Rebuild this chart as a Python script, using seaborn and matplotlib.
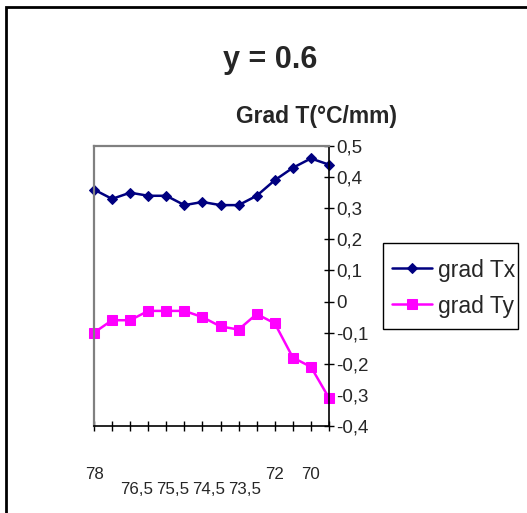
import numpy as np
import pandas as pd
import matplotlib
matplotlib.use("Agg")
import matplotlib.pyplot as plt
import seaborn as sns
from matplotlib.patches import Rectangle
from matplotlib.ticker import FuncFormatter, MultipleLocator
from matplotlib.transforms import ScaledTranslation

# Temperature gradient along the profile at y = 0.6
x_labels = ["78", "", "76,5", "", "75,5", "", "74,5", "", "73,5", "", "72", "", "70", ""]
grad_tx = [0.36, 0.33, 0.35, 0.34, 0.34, 0.31, 0.32, 0.31, 0.31, 0.34, 0.39, 0.43, 0.46, 0.44]
grad_ty = [-0.10, -0.06, -0.06, -0.03, -0.03, -0.03, -0.05, -0.08, -0.09, -0.04, -0.07, -0.18, -0.21, -0.31]
label_row = [0, 0, 1, 0, 1, 0, 1, 0, 1, 0, 0, 0, 0, 0]

df = pd.DataFrame({"pos": np.arange(len(grad_tx)), "grad Tx": grad_tx, "grad Ty": grad_ty})

sns.set_theme(style="white")
plt.rcParams["font.family"] = ["Liberation Sans", "DejaVu Sans"]

W, H = 527, 513
fig = plt.figure(figsize=(W / 100, H / 100), dpi=100)
ax = fig.add_axes([94 / W, 1 - 426 / H, (329 - 94) / W, (426 - 146) / H])

sns.lineplot(data=df, x="pos", y="grad Tx", ax=ax, color="#000080", lw=1.8,
             marker="D", markersize=5.6, markeredgecolor="#000080",
             label="grad Tx", clip_on=False)
sns.lineplot(data=df, x="pos", y="grad Ty", ax=ax, color="#FF00FF", lw=1.8,
             marker="s", markersize=6.8, markeredgecolor="#FF00FF",
             label="grad Ty", clip_on=False)

ax.set_xlim(0, len(grad_tx) - 1)
ax.set_ylim(-0.4, 0.5)
ax.set_xlabel("")
ax.set_ylabel("")

# value axis on the right, comma decimal separator
ax.yaxis.tick_right()
ax.yaxis.set_major_locator(MultipleLocator(0.1))
ax.yaxis.set_major_formatter(FuncFormatter(lambda v, _: f"{round(v, 2):g}".replace(".", ",")))
ax.tick_params(axis="y", direction="inout", length=7, width=1, color="black",
               labelsize=13.5, pad=1.5, right=True, left=False)

ax.set_xticks(df["pos"])
ax.set_xticklabels(x_labels)
ax.tick_params(axis="x", direction="inout", length=7, width=1, color="black",
               labelsize=12.2, pad=26, bottom=True)
for lbl, row in zip(ax.get_xticklabels(), label_row):
    if row:
        lbl.set_transform(lbl.get_transform() + ScaledTranslation(6 / 100, -15 / 100, fig.dpi_scale_trans))

for side in ("top", "left"):
    ax.spines[side].set_color("#808080")
    ax.spines[side].set_linewidth(1.6)
for side in ("right", "bottom"):
    ax.spines[side].set_color("black")
    ax.spines[side].set_linewidth(1.2)
ax.grid(False)

ax.get_legend().remove()
handles, labels = ax.get_legend_handles_labels()
leg = fig.legend(handles, labels, loc="upper left",
                 bbox_to_anchor=(392 / W, 1 - 259 / H), bbox_transform=fig.transFigure,
                 fontsize=16.5, frameon=False,
                 handlelength=1.75, handleheight=1.0, handletextpad=0.25,
                 borderpad=0, labelspacing=0.55, borderaxespad=0)
fig.patches.append(Rectangle((383 / W, 1 - 329 / H), (518 - 383) / W, (329 - 243) / H,
                             transform=fig.transFigure, fill=False,
                             edgecolor="black", linewidth=1.0))

fig.text(270 / W, 1 - 60 / H, "y = 0.6", ha="center", va="center",
         fontsize=22, fontweight="bold")
fig.text(317 / W, 1 - 116 / H, "Grad T(°C/mm)", ha="center", va="center",
         fontsize=16.5, fontweight="bold")

fig.patches.append(Rectangle((6 / W, -0.1), 1.2, 1 - 7 / H + 0.1, transform=fig.transFigure,
                             fill=False, edgecolor="black", linewidth=2, zorder=10))

fig.savefig("out.png", dpi=100)
